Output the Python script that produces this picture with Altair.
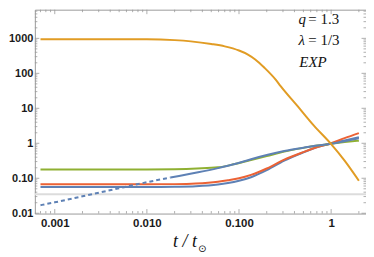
import altair as alt
import pandas as pd

# ---------------- data ----------------
t_orange = [0.0007, 0.001, 0.002, 0.005, 0.01, 0.02, 0.03, 0.05, 0.07, 0.1, 0.125, 0.15, 0.189, 0.25, 0.283, 0.43, 0.65, 1.0, 1.4, 2.0]
v_orange = [950, 950, 950, 948, 945, 890, 820, 690, 590, 450, 345, 250, 144, 66, 43, 11.7, 3.2, 0.95, 0.32, 0.085]

t_green = [0.0007, 0.003, 0.01, 0.02, 0.035, 0.059, 0.09, 0.135, 0.2, 0.31, 0.5, 0.71, 1.0, 1.4, 2.0]
v_green = [0.178, 0.178, 0.179, 0.182, 0.19, 0.205, 0.255, 0.33, 0.43, 0.58, 0.74, 0.86, 0.97, 1.08, 1.19]

t_red = [0.0007, 0.005, 0.01, 0.02, 0.034, 0.059, 0.076, 0.1, 0.135, 0.2, 0.31, 0.5, 0.71, 1.0, 1.4, 2.0]
v_red = [0.067, 0.067, 0.067, 0.068, 0.071, 0.08, 0.088, 0.1, 0.125, 0.19, 0.34, 0.56, 0.78, 1.0, 1.4, 1.95]

t_blue_low = [0.0007, 0.005, 0.01, 0.02, 0.034, 0.059, 0.076, 0.1, 0.135, 0.2, 0.31, 0.5, 0.71, 1.0, 1.4, 2.0]
v_blue_low = [0.056, 0.056, 0.056, 0.057, 0.059, 0.066, 0.073, 0.085, 0.107, 0.17, 0.32, 0.55, 0.78, 0.98, 1.2, 1.5]

t_blue_dash = [0.0007, 0.001, 0.002, 0.005, 0.01, 0.018]
v_blue_dash = [0.017, 0.0205, 0.0305, 0.052, 0.077, 0.105]

t_blue_up = [0.018, 0.036, 0.059, 0.09, 0.135, 0.2, 0.31, 0.5, 0.71, 1.0, 1.4, 2.0]
v_blue_up = [0.105, 0.148, 0.195, 0.255, 0.35, 0.46, 0.6, 0.75, 0.87, 0.97, 1.15, 1.4]

gray_level = [0.035]

x_ticks = [0.001, 0.01, 0.1, 1]
y_ticks = [0.01, 0.1, 1, 10, 100, 1000]
minor_mult = [2, 3, 4, 5, 6, 7, 8, 9]

# ---------------- styling ----------------
W, H = 333, 205
XDOM = [0.000608, 2.39]
YDOM = [0.0098, 6600]
BLUE, ORANGE, GREEN, RED = "#5E81B5", "#E19C24", "#8FB032", "#EB6235"
FRAME = "#9a9a9a"

xscale = alt.Scale(type="log", domain=XDOM, nice=False)
yscale = alt.Scale(type="log", domain=YDOM, nice=False)

x_label_expr = ("datum.value < 0.005 ? '0.001' : datum.value < 0.05 ? '0.010' : "
                "datum.value < 0.5 ? '0.100' : '1'")
y_label_expr = ("datum.value < 0.05 ? '0.01' : datum.value < 0.5 ? '0.10' : datum.value < 5 ? '1' : "
                "datum.value < 50 ? '10' : datum.value < 500 ? '100' : '1000'")

x_axis = alt.Axis(values=x_ticks, labelExpr=x_label_expr, title=None, ticks=False, domain=False,
                  grid=False, labelFont="Liberation Sans", labelFontWeight="bold", labelFontSize=11.5,
                  labelColor="#1a1a1a", labelPadding=4, labelFlush=False)
y_axis = alt.Axis(values=y_ticks, labelExpr=y_label_expr, title=None, ticks=False, domain=False,
                  grid=False, labelFont="Liberation Sans", labelFontWeight="bold", labelFontSize=11,
                  labelColor="#1a1a1a", labelPadding=2, labelFlush=False)

X = lambda f: alt.X(f, scale=xscale, axis=x_axis)
Y = lambda f: alt.Y(f, scale=yscale, axis=y_axis)


def line(ts, vs, color, dash=None):
    df = pd.DataFrame({"t": ts, "v": vs})
    kw = dict(color=color, strokeWidth=2, interpolate="monotone", clip=True)
    if dash:
        kw["strokeDash"] = dash
    return alt.Chart(df).mark_line(**kw).encode(x=X("t:Q"), y=Y("v:Q"))


def in_dom(v, dom):
    return dom[0] <= v <= dom[1]

x_minor = [m * 10.0 ** e for e in range(-4, 1) for m in minor_mult if in_dom(m * 10.0 ** e, XDOM)]
y_minor = [m * 10.0 ** e for e in range(-3, 4) for m in minor_mult if in_dom(m * 10.0 ** e, YDOM)]

tick_layers = []
for vals, L in ((x_ticks, 4.5), (x_minor, 2.5)):
    df = pd.DataFrame({"t": vals})
    tick_layers.append(alt.Chart(df).mark_rule(color=FRAME, strokeWidth=0.8).encode(
        x=X("t:Q"), y=alt.value(H), y2=alt.value(H - L)))
    tick_layers.append(alt.Chart(df).mark_rule(color=FRAME, strokeWidth=0.8).encode(
        x=X("t:Q"), y=alt.value(0), y2=alt.value(L)))
for vals, L in ((y_ticks, 4.5), (y_minor, 2.5)):
    df = pd.DataFrame({"v": vals})
    tick_layers.append(alt.Chart(df).mark_rule(color=FRAME, strokeWidth=0.8).encode(
        y=Y("v:Q"), x=alt.value(0), x2=alt.value(L)))
    tick_layers.append(alt.Chart(df).mark_rule(color=FRAME, strokeWidth=0.8).encode(
        y=Y("v:Q"), x=alt.value(W), x2=alt.value(W - L)))

gray = alt.Chart(pd.DataFrame({"v": gray_level})).mark_rule(color="#dcdcdc", strokeWidth=2).encode(
    y=Y("v:Q"), x=alt.value(0), x2=alt.value(W))


def txt(s, x, y, size=15, style="italic", font="Liberation Serif", align="left"):
    return alt.Chart(pd.DataFrame({"s": [s]})).mark_text(
        font=font, fontSize=size, fontStyle=style, align=align, baseline="alphabetic",
        color="#111111").encode(text="s:N", x=alt.value(x), y=alt.value(y))


annot = [
    txt("q", 265, 14),
    txt("= 1.3", 275, 14, style="normal"),
    txt("λ", 265, 36),
    txt("= 1/3", 275, 36, style="normal"),
    txt("EXP", 266, 58),
    txt("t / t", 139, 239, size=18),
    txt("⊙", 164, 244, size=10, style="normal", font="DejaVu Sans"),
]

chart = alt.layer(
    line(t_blue_low, v_blue_low, BLUE),
    gray,
    line(t_red, v_red, RED),
    line(t_green, v_green, GREEN),
    line(t_blue_dash, v_blue_dash, BLUE, dash=[4, 3]),
    line(t_blue_up, v_blue_up, BLUE),
    line(t_orange, v_orange, ORANGE),
    *tick_layers,
    *annot,
).properties(
    width=W, height=H,
    autosize=alt.AutoSizeParams(type="none"),
    padding={"left": 27, "top": 1, "right": 0, "bottom": 44},
).configure_view(stroke=FRAME, strokeWidth=1)

chart.save("out.html", embed_options={"renderer": "svg", "actions": False})
